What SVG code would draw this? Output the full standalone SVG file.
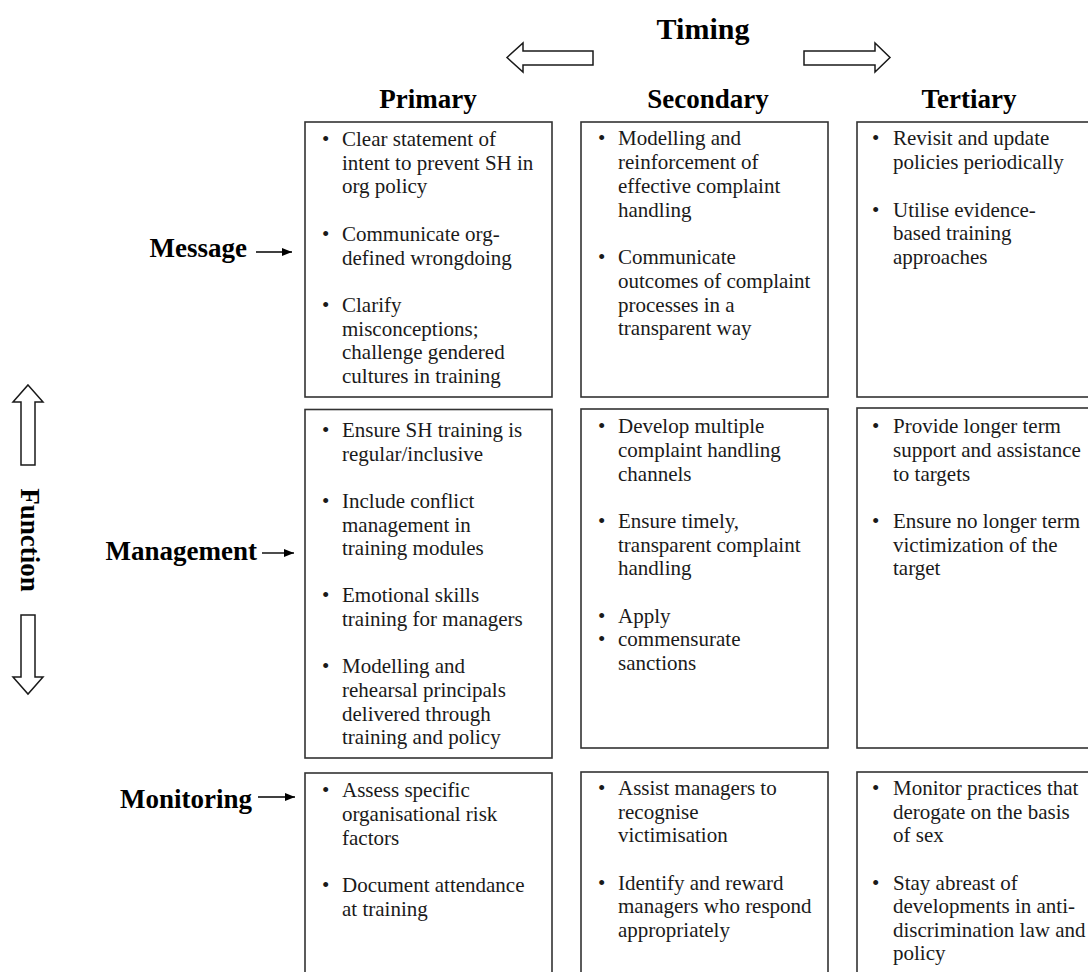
<svg xmlns="http://www.w3.org/2000/svg" width="1088" height="972" viewBox="0 0 1088 972">
<style>
.box{fill:#fff;stroke:#333;stroke-width:1.6}
.blk{fill:#fff;stroke:#1a1a1a;stroke-width:1.5}
.t{font-family:"Liberation Serif","Times New Roman",serif;font-size:21px;fill:#1a1a1a}
.h{font-family:"Liberation Serif","Times New Roman",serif;font-size:27px;font-weight:bold;fill:#000}
.ttl{font-family:"Liberation Serif","Times New Roman",serif;font-size:30px;font-weight:bold;fill:#000}
.ln{stroke:#000;stroke-width:1.4;fill:none}
</style>
<defs>
<marker id="ah" markerWidth="10" markerHeight="8" refX="10" refY="4" orient="auto" markerUnits="userSpaceOnUse">
<path d="M0,0 L10,4 L0,8 Z" fill="#000"/>
</marker>
</defs>
<rect width="1088" height="972" fill="#fff"/>

<g id="timing">
<text class="ttl" x="703" y="39" text-anchor="middle">Timing</text>
<polygon class="blk" points="507,57.5 523,43 523,51 593,51 593,65 523,65 523,72"/>
<polygon class="blk" points="804,51 875,51 875,43 890,57.5 875,72 875,65 804,65"/>
</g>

<g id="function">
<polygon class="blk" points="28,385 43,402 35,402 35,465 21,465 21,402 13,402"/>
<polygon class="blk" points="21,615 35,615 35,677 43,677 28,694 13,677 21,677"/>
<text class="h" transform="translate(21,540) rotate(90)" text-anchor="middle" font-size="28">Function</text>
</g>

<g id="headers">
<text class="h" x="428" y="108" text-anchor="middle">Primary</text>
<text class="h" x="708" y="108" text-anchor="middle">Secondary</text>
<text class="h" x="969" y="108" text-anchor="middle">Tertiary</text>
</g>

<g id="row-labels">
<text class="h" x="247" y="257" text-anchor="end">Message</text>
<text class="h" x="257" y="560" text-anchor="end">Management</text>
<text class="h" x="252" y="808" text-anchor="end">Monitoring</text>
</g>

<g id="connectors">
<line class="ln" x1="256" y1="252" x2="292" y2="252" marker-end="url(#ah)"/>
<line class="ln" x1="262" y1="553" x2="294" y2="553" marker-end="url(#ah)"/>
<line class="ln" x1="258" y1="797" x2="295" y2="797" marker-end="url(#ah)"/>
</g>

<g id="message-primary">
<rect class="box" x="305" y="122" width="247" height="275"/>
<text class="t">
<tspan x="322" y="146">•</tspan><tspan x="342" y="146">Clear statement of</tspan>
<tspan x="342" y="169.7">intent to prevent SH in</tspan>
<tspan x="342" y="193.4">org policy</tspan>
<tspan x="322" y="240.8">•</tspan><tspan x="342" y="240.8">Communicate org-</tspan>
<tspan x="342" y="264.5">defined wrongdoing</tspan>
<tspan x="322" y="312">•</tspan><tspan x="342" y="312">Clarify</tspan>
<tspan x="342" y="335.6">misconceptions;</tspan>
<tspan x="342" y="359.3">challenge gendered</tspan>
<tspan x="342" y="383">cultures in training</tspan>
</text>
</g>

<g id="message-secondary">
<rect class="box" x="581" y="122" width="247" height="275"/>
<text class="t">
<tspan x="598" y="145">•</tspan><tspan x="618" y="145">Modelling and</tspan>
<tspan x="618" y="169">reinforcement of</tspan>
<tspan x="618" y="193">effective complaint</tspan>
<tspan x="618" y="216.5">handling</tspan>
<tspan x="598" y="264">•</tspan><tspan x="618" y="264">Communicate</tspan>
<tspan x="618" y="288">outcomes of complaint</tspan>
<tspan x="618" y="311.5">processes in a</tspan>
<tspan x="618" y="335">transparent way</tspan>
</text>
</g>

<g id="message-tertiary">
<rect class="box" x="857" y="122" width="250" height="275"/>
<text class="t">
<tspan x="872" y="145">•</tspan><tspan x="893" y="145">Revisit and update</tspan>
<tspan x="893" y="169">policies periodically</tspan>
<tspan x="872" y="216.5">•</tspan><tspan x="893" y="216.5">Utilise evidence-</tspan>
<tspan x="893" y="240">based training</tspan>
<tspan x="893" y="264">approaches</tspan>
</text>
</g>

<g id="management-primary">
<rect class="box" x="305" y="409.5" width="247" height="348.5"/>
<text class="t">
<tspan x="322" y="437">•</tspan><tspan x="342" y="437">Ensure SH training is</tspan>
<tspan x="342" y="460.5">regular/inclusive</tspan>
<tspan x="322" y="508">•</tspan><tspan x="342" y="508">Include conflict</tspan>
<tspan x="342" y="531.5">management in</tspan>
<tspan x="342" y="555">training modules</tspan>
<tspan x="322" y="602">•</tspan><tspan x="342" y="602">Emotional skills</tspan>
<tspan x="342" y="626">training for managers</tspan>
<tspan x="322" y="673">•</tspan><tspan x="342" y="673">Modelling and</tspan>
<tspan x="342" y="697">rehearsal principals</tspan>
<tspan x="342" y="720.5">delivered through</tspan>
<tspan x="342" y="744">training and policy</tspan>
</text>
</g>

<g id="management-secondary">
<rect class="box" x="581" y="409" width="247" height="339"/>
<text class="t">
<tspan x="598" y="433">•</tspan><tspan x="618" y="433">Develop multiple</tspan>
<tspan x="618" y="457">complaint handling</tspan>
<tspan x="618" y="480.5">channels</tspan>
<tspan x="598" y="528">•</tspan><tspan x="618" y="528">Ensure timely,</tspan>
<tspan x="618" y="551.5">transparent complaint</tspan>
<tspan x="618" y="575">handling</tspan>
<tspan x="598" y="622.5">•</tspan><tspan x="618" y="622.5">Apply</tspan>
<tspan x="598" y="646">•</tspan><tspan x="618" y="646">commensurate</tspan>
<tspan x="618" y="670">sanctions</tspan>
</text>
</g>

<g id="management-tertiary">
<rect class="box" x="857" y="408" width="250" height="340"/>
<text class="t">
<tspan x="872" y="433">•</tspan><tspan x="893" y="433">Provide longer term</tspan>
<tspan x="893" y="457">support and assistance</tspan>
<tspan x="893" y="480.5">to targets</tspan>
<tspan x="872" y="528">•</tspan><tspan x="893" y="528">Ensure no longer term</tspan>
<tspan x="893" y="551.5">victimization of the</tspan>
<tspan x="893" y="575">target</tspan>
</text>
</g>

<g id="monitoring-primary">
<rect class="box" x="305" y="773" width="247" height="230"/>
<text class="t">
<tspan x="322" y="797">•</tspan><tspan x="342" y="797">Assess specific</tspan>
<tspan x="342" y="821">organisational risk</tspan>
<tspan x="342" y="844.5">factors</tspan>
<tspan x="322" y="892">•</tspan><tspan x="342" y="892">Document attendance</tspan>
<tspan x="342" y="915.5">at training</tspan>
</text>
</g>

<g id="monitoring-secondary">
<rect class="box" x="581" y="772" width="247" height="230"/>
<text class="t">
<tspan x="598" y="795">•</tspan><tspan x="618" y="795">Assist managers to</tspan>
<tspan x="618" y="818.5">recognise</tspan>
<tspan x="618" y="842">victimisation</tspan>
<tspan x="598" y="889.5">•</tspan><tspan x="618" y="889.5">Identify and reward</tspan>
<tspan x="618" y="913">managers who respond</tspan>
<tspan x="618" y="937">appropriately</tspan>
</text>
</g>

<g id="monitoring-tertiary">
<rect class="box" x="857" y="772" width="250" height="230"/>
<text class="t">
<tspan x="872" y="795">•</tspan><tspan x="893" y="795">Monitor practices that</tspan>
<tspan x="893" y="818.5">derogate on the basis</tspan>
<tspan x="893" y="842">of sex</tspan>
<tspan x="872" y="889.5">•</tspan><tspan x="893" y="889.5">Stay abreast of</tspan>
<tspan x="893" y="913">developments in anti-</tspan>
<tspan x="893" y="937">discrimination law and</tspan>
<tspan x="893" y="960">policy</tspan>
</text>
</g>
</svg>
